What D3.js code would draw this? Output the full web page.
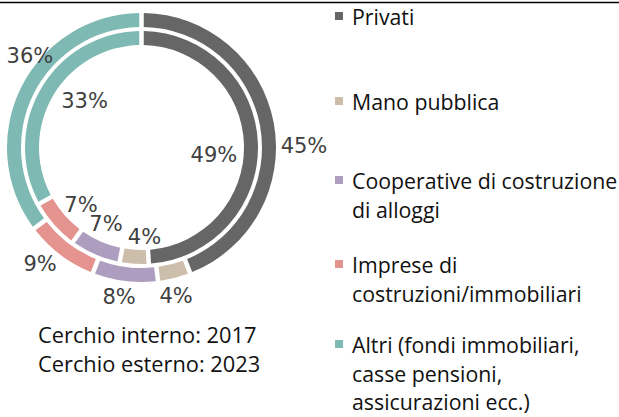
<!DOCTYPE html>
<html>
<head>
<meta charset="utf-8">
<script src="https://cdn.jsdelivr.net/npm/d3@7/dist/d3.min.js"></script>
<style>
  html, body { margin: 0; padding: 0; background: #ffffff; }
  svg { display: block; }
</style>
</head>
<body>
<svg id="chart" width="619" height="417"></svg>
<script>
// Categories of builders, in drawing order (clockwise from 12 o'clock)
const categories = [
  "Privati",
  "Mano pubblica",
  "Cooperative di costruzione di alloggi",
  "Imprese di costruzioni/immobiliari",
  "Altri (fondi immobiliari, casse pensioni, assicurazioni ecc.)"
];
// Legend text, wrapped as in the legend box
const legendLines = [
  ["Privati"],
  ["Mano pubblica"],
  ["Cooperative di costruzione", "di alloggi"],
  ["Imprese di", "costruzioni/immobiliari"],
  ["Altri (fondi immobiliari,", "casse pensioni,", "assicurazioni ecc.)"]
];
// Shares in percent
const values2017 = [49, 4, 7, 7, 33];   // inner ring
const values2023 = [45, 4, 8, 9, 36];   // outer ring
const ringNotes = ["Cerchio interno: 2017", "Cerchio esterno: 2023"];

const colors = ["#666666", "#cdbdab", "#ad9dbf", "#e4938e", "#7fb9b4"];

const svg = d3.select("#chart");

// rule across the top edge
svg.append("line")
  .attr("x1", 0).attr("x2", 619)
  .attr("y1", 2.5).attr("y2", 2.5)
  .attr("stroke", "#000").attr("stroke-width", 1.4);

const cx = 141.5, cy = 147.5;
const g = svg.append("g").attr("transform", `translate(${cx},${cy})`);

const pie = d3.pie().sort(null).value(d => d);
const color = d3.scaleOrdinal().domain(d3.range(categories.length)).range(colors);

const rings = [
  { values: values2017, inner: 102.5, outer: 116.5,
    // label offsets: angle shift (deg) from slice middle, radius
    labels: [[7.5, 72.8], [-5.5, 89], [1.8, 83.4], [-1.9, 83.1], [9.0, 73.9]] },
  { values: values2023, inner: 120.5, outer: 134.5,
    labels: [[10.0, 162.5], [0.9, 151.5], [1.5, 150.2], [4.1, 154.1], [13.2, 144.9]] }
];

rings.forEach(ring => {
  const arcs = pie(ring.values);
  const arc = d3.arc()
    .innerRadius(ring.inner)
    .outerRadius(ring.outer)
    .padRadius(100)
    .padAngle(0.045);

  g.append("g").selectAll("path")
    .data(arcs)
    .join("path")
    .attr("d", arc)
    .attr("fill", (d, i) => color(i));

  g.append("g").selectAll("text")
    .data(arcs)
    .join("text")
    .attr("transform", (d, i) => {
      const mid = (d.startAngle + d.endAngle) / 2 + ring.labels[i][0] * Math.PI / 180;
      const r = ring.labels[i][1];
      return `translate(${r * Math.sin(mid)},${-r * Math.cos(mid)})`;
    })
    .attr("text-anchor", "middle")
    .attr("dy", "0.36em")
    .attr("font-family", "'DejaVu Sans', sans-serif")
    .attr("font-size", 21)
    .attr("fill", "#404040")
    .text(d => `${d.data}%`);
});

// legend
const legendBaselines = [25, 110, 189, 273, 353];
const lineH = 28.5;
const legend = svg.append("g");
legendLines.forEach((lines, i) => {
  const y0 = legendBaselines[i];
  legend.append("rect")
    .attr("x", 335).attr("y", y0 - 13)
    .attr("width", 8).attr("height", 8)
    .attr("fill", colors[i]);
  const t = legend.append("text")
    .attr("x", 352).attr("y", y0)
    .attr("font-family", "'Open Sans', sans-serif")
    .attr("font-size", 21.3)
    .attr("fill", "#111");
  lines.forEach((ln, k) => {
    t.append("tspan").attr("x", 352).attr("y", y0 + k * lineH).text(ln);
  });
});

// ring year notes
svg.append("g").selectAll("text")
  .data(ringNotes)
  .join("text")
  .attr("x", 38)
  .attr("y", (d, i) => 343 + i * 28.5)
  .attr("font-family", "'Open Sans', sans-serif")
  .attr("font-size", 21.8)
  .attr("fill", "#111")
  .text(d => d);
</script>
</body>
</html>
